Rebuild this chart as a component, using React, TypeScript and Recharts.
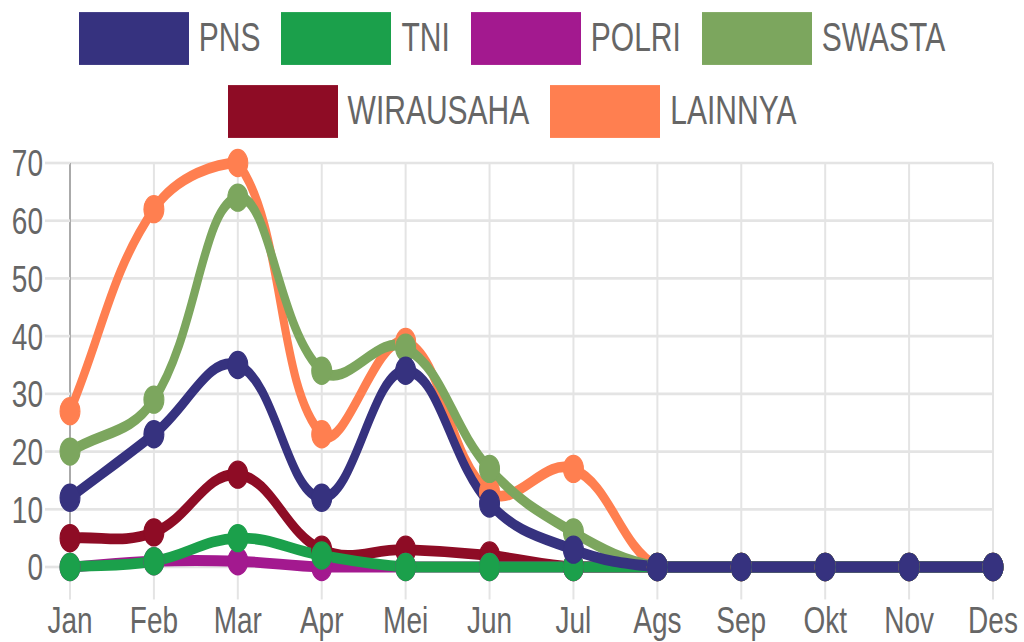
import React from 'react';
import { LineChart, Line, XAxis, YAxis, CartesianGrid } from 'recharts';

// the reference is stretched vertically, so the chart is laid out flat and scaled
const STRETCH = 1.3516;
const W = 1024;
const H = 475;
const PLOT_TOP = 120.6;
const PLOT_BOTTOM = 419.5;

const MONTHS = ['Jan', 'Feb', 'Mar', 'Apr', 'Mei', 'Jun', 'Jul', 'Ags', 'Sep', 'Okt', 'Nov', 'Des'];
const Y_TICKS = [0, 10, 20, 30, 40, 50, 60, 70];

const PNS = [12, 23, 35, 12, 34, 11, 3, 0, 0, 0, 0, 0];
const TNI = [0, 1, 5, 2, 0, 0, 0, 0, 0, 0, 0, 0];
const POLRI = [0, 1, 1, 0, 0, 0, 0, 0, 0, 0, 0, 0];
const SWASTA = [20, 29, 64, 34, 38, 17, 6, 0, 0, 0, 0, 0];
const WIRAUSAHA = [5, 6, 16, 3, 3, 2, 0, 0, 0, 0, 0, 0];
const LAINNYA = [27, 62, 70, 23, 39, 13, 17, 0, 0, 0, 0, 0];

const SERIES = [
  { key: 'pns', name: 'PNS', color: '#36327f', values: PNS },
  { key: 'tni', name: 'TNI', color: '#1ba04b', values: TNI },
  { key: 'polri', name: 'POLRI', color: '#a3198f', values: POLRI },
  { key: 'swasta', name: 'SWASTA', color: '#7ca65e', values: SWASTA },
  { key: 'wirausaha', name: 'WIRAUSAHA', color: '#8e0c25', values: WIRAUSAHA },
  { key: 'lainnya', name: 'LAINNYA', color: '#ff7f50', values: LAINNYA },
];

const LEGEND_ROWS = [SERIES.slice(0, 4), SERIES.slice(4)];

const chartData = MONTHS.map((m, i) => {
  const row: any = { month: m };
  SERIES.forEach(s => { row[s.key] = s.values[i]; });
  return row;
});

const FONT = '"Liberation Sans", Arial, Helvetica, sans-serif';

const clampY = (y: number) => Math.min(Math.max(y, PLOT_TOP), PLOT_BOTTOM);

// Chart.js style spline (tension 0.4, control points kept inside the plot)
const splineCurve = (context: any) => {
  let pts: number[][] = [];
  const t = 0.4;
  const ctrl = (i: number) => {
    const p = pts[i];
    const a = pts[Math.max(i - 1, 0)];
    const b = pts[Math.min(i + 1, pts.length - 1)];
    const d01 = Math.hypot(p[0] - a[0], p[1] - a[1]);
    const d12 = Math.hypot(b[0] - p[0], b[1] - p[1]);
    let s01 = d01 / (d01 + d12);
    let s12 = d12 / (d01 + d12);
    if (isNaN(s01)) s01 = 0;
    if (isNaN(s12)) s12 = 0;
    const fa = t * s01;
    const fb = t * s12;
    return {
      prev: [p[0] - fa * (b[0] - a[0]), clampY(p[1] - fa * (b[1] - a[1]))],
      next: [p[0] + fb * (b[0] - a[0]), clampY(p[1] + fb * (b[1] - a[1]))],
    };
  };
  return {
    areaStart() {},
    areaEnd() {},
    lineStart() { pts = []; },
    lineEnd() {
      if (!pts.length) return;
      context.moveTo(pts[0][0], pts[0][1]);
      for (let i = 1; i < pts.length; i++) {
        const c0 = ctrl(i - 1);
        const c1 = ctrl(i);
        context.bezierCurveTo(c0.next[0], c0.next[1], c1.prev[0], c1.prev[1], pts[i][0], pts[i][1]);
      }
    },
    point(x: number, y: number) { pts.push([+x, +y]); },
  };
};

const Legend = () => (
  <>
    {LEGEND_ROWS.map((row, r) => (
      <div
        key={r}
        style={{
          position: 'absolute', left: 0, top: r === 0 ? 9 : 63, width: W, height: 38.5,
          display: 'flex', justifyContent: 'center', alignItems: 'center', gap: 21,
        }}
      >
        {row.map(s => (
          <div key={s.key} style={{ display: 'flex', alignItems: 'center' }}>
            <div
              style={{
                width: 110, height: 38.5, boxSizing: 'border-box', background: s.color,
                border: `2px solid ${s.color}88`, marginRight: 10,
              }}
            />
            <span style={{ fontFamily: FONT, fontSize: 30, color: '#666', lineHeight: 1 }}>{s.name}</span>
          </div>
        ))}
      </div>
    ))}
  </>
);

export default function App() {
  return (
    <div
      style={{
        position: 'absolute', left: 0, top: 0, width: W, height: H,
        transform: `scaleY(${STRETCH})`, transformOrigin: '0 0', background: '#fff',
      }}
    >
      <Legend />
      <LineChart
        width={W}
        height={H}
        data={chartData}
        margin={{ top: PLOT_TOP, right: 31, bottom: 0, left: 0 }}
      >
        <CartesianGrid stroke="#e4e4e4" strokeWidth={2} />
        <XAxis
          dataKey="month"
          interval={0}
          height={H - PLOT_BOTTOM}
          tickSize={24}
          tickMargin={5}
          axisLine={false}
          tickLine={{ stroke: '#e4e4e4', strokeWidth: 2 }}
          tick={{ fontSize: 28, fill: '#666', fontFamily: FONT }}
          {...({ zIndex: -50 } as any)}
        />
        <YAxis
          domain={[0, 70]}
          ticks={Y_TICKS}
          width={70}
          tickSize={25}
          tickMargin={2}
          axisLine={{ stroke: '#aaa', strokeWidth: 2 }}
          tickLine={{ stroke: '#e4e4e4', strokeWidth: 2 }}
          tick={{ fontSize: 28, fill: '#666', fontFamily: FONT }}
          {...({ zIndex: -50 } as any)}
        />
        {[...SERIES].reverse().map(s => (
          <Line
            key={s.key}
            dataKey={s.key}
            name={s.name}
            type={splineCurve as any}
            stroke={s.color}
            strokeWidth={8}
            dot={{ r: 10, fill: s.color, stroke: s.color, strokeWidth: 1 }}
            activeDot={false}
            isAnimationActive={false}
          />
        ))}
      </LineChart>
    </div>
  );
}
